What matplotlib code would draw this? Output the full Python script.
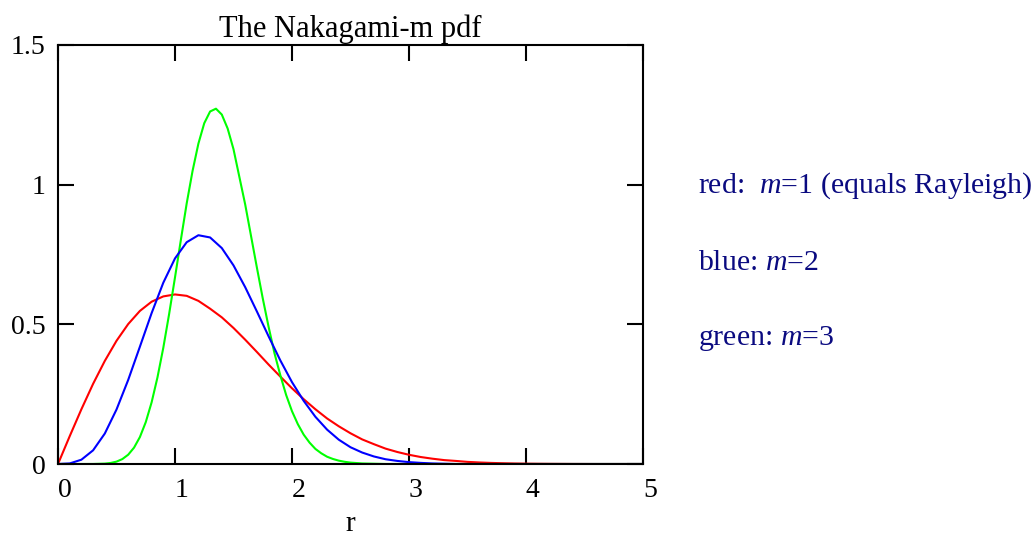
import numpy as np
import matplotlib
matplotlib.use("Agg")
import matplotlib.pyplot as plt

# ---- data ----
r = [round(0.1 * i, 1) for i in range(51)]

red_m1 = [0.0, 0.0995, 0.196, 0.287, 0.369, 0.441, 0.501, 0.548, 0.581, 0.600,
          0.607, 0.602, 0.584, 0.556, 0.525, 0.487, 0.445, 0.401, 0.356, 0.313,
          0.271, 0.232, 0.196, 0.163, 0.135, 0.110, 0.088, 0.071, 0.055, 0.043,
          0.033, 0.025, 0.019, 0.014, 0.011, 0.0076, 0.0055, 0.0039, 0.0028, 0.0019,
          0.0013, 0.0009, 0.0006, 0.0004, 0.0002, 0.0001, 0.0, 0.0, 0.0, 0.0, 0.0]

blue_m2 = [0.0, 0.002, 0.0154, 0.049, 0.109, 0.195, 0.301, 0.420, 0.540, 0.649,
           0.736, 0.794, 0.819, 0.811, 0.773, 0.711, 0.633, 0.546, 0.457, 0.371,
           0.293, 0.226, 0.169, 0.123, 0.087, 0.060, 0.041, 0.027, 0.017, 0.011,
           0.0067, 0.004, 0.002, 0.001, 0.0, 0.0, 0.0, 0.0, 0.0, 0.0,
           0.0, 0.0, 0.0, 0.0, 0.0, 0.0, 0.0, 0.0, 0.0, 0.0, 0.0]

# green is sampled finer around its narrow peak
r_green = ([0.0, 0.1, 0.2, 0.3] + [round(0.4 + 0.05 * i, 2) for i in range(43)]
           + [round(2.6 + 0.1 * i, 1) for i in range(25)])
green_m3 = ([0.0, 0.0, 0.0, 0.0001] +
            [0.0014, 0.0037, 0.0085, 0.0176, 0.0333, 0.0586, 0.0965, 0.1498,
             0.2205, 0.3097, 0.416, 0.5375, 0.668, 0.802, 0.933, 1.049,
             1.147, 1.220, 1.262, 1.272, 1.251, 1.201, 1.127, 1.028, 0.929,
             0.816, 0.703, 0.593, 0.491, 0.397, 0.318, 0.247, 0.189, 0.1425,
             0.105, 0.0766, 0.054, 0.0384, 0.026, 0.018, 0.012, 0.0079, 0.005] +
            [0.002, 0.001] + [0.0] * 23)

x_ticks = [0, 1, 2, 3, 4, 5]
x_tick_labels = ["0", "1", "2", "3", "4", "5"]
y_ticks = [0, 0.5, 1, 1.5]
y_tick_labels = ["0", "0.5", "1", "1.5"]

title = "The Nakagami-m pdf"
xlabel = "r"
notes = ["red:  $m$=1 (equals Rayleigh)", "blue: $m$=2", "green: $m$=3"]

# ---- style ----
plt.rcParams["font.family"] = ["Liberation Serif", "DejaVu Serif"]
plt.rcParams["mathtext.fontset"] = "custom"
plt.rcParams["mathtext.rm"] = "Liberation Serif"
plt.rcParams["mathtext.it"] = "Liberation Serif:italic"

fig = plt.figure(figsize=(10.34, 5.37), dpi=100)
ax = fig.add_axes([58 / 1034, (537 - 464) / 537, (643 - 58) / 1034, (464 - 45) / 537])

ax.plot(r, red_m1, color="#ff0000", lw=1.5)
ax.plot(r_green, green_m3, color="#00ff00", lw=1.5)
ax.plot(r, blue_m2, color="#0000ff", lw=1.5)

ax.set_xlim(0, 5)
ax.set_ylim(0, 1.5)

ax.set_xticks(x_ticks)
ax.set_xticklabels(x_tick_labels, fontsize=20, ha="left")
ax.set_yticks(y_ticks)
ax.set_yticklabels(y_tick_labels, fontsize=20)
ax.tick_params(direction="in", length=11.5, width=1.5, top=True, right=True,
               colors="black")
ax.tick_params(axis="x", pad=10)
ax.tick_params(axis="y", pad=9)
for s in ax.spines.values():
    s.set_linewidth(1.5)
    s.set_color("black")

ax.set_title(title, fontsize=22, pad=6)
ax.set_xlabel(xlabel, fontsize=21, labelpad=6)

ys = [(537 - 193) / 537, (537 - 270) / 537, (537 - 345) / 537]
for t, y in zip(notes, ys):
    fig.text(698 / 1034, y, t, fontsize=21.5, color="#0a0a80", va="baseline", ha="left")

fig.savefig("out.png", dpi=100)
